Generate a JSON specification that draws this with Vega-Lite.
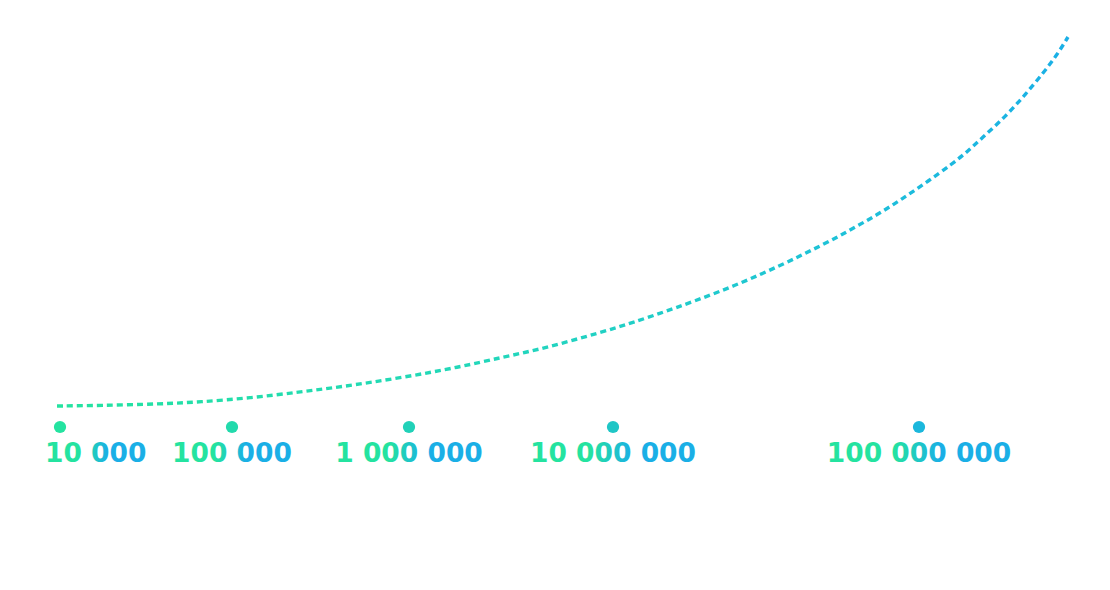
{
  "$schema": "https://vega.github.io/schema/vega-lite/v6.json",
  "width": 1110,
  "height": 590,
  "autosize": {"type": "fit", "contains": "padding"},
  "padding": 0,
  "background": "#ffffff",
  "config": {"view": {"stroke": null}},
  "datasets": {
    "curve": [
      {"x": 57, "v": 21}, {"x": 100, "v": 21.5}, {"x": 160, "v": 23}, {"x": 200, "v": 25},
      {"x": 250, "v": 29}, {"x": 300, "v": 35}, {"x": 340, "v": 40}, {"x": 400, "v": 49},
      {"x": 460, "v": 60}, {"x": 502, "v": 69.7}, {"x": 540, "v": 77.7}, {"x": 580, "v": 88.7},
      {"x": 618, "v": 99.7}, {"x": 650, "v": 110}, {"x": 740, "v": 142}, {"x": 823, "v": 182},
      {"x": 850, "v": 197}, {"x": 877, "v": 212}, {"x": 902, "v": 228}, {"x": 927, "v": 245},
      {"x": 952, "v": 263}, {"x": 967, "v": 275}, {"x": 982, "v": 289}, {"x": 1005, "v": 310},
      {"x": 1025, "v": 332}, {"x": 1044, "v": 355}, {"x": 1057, "v": 372}, {"x": 1068, "v": 390}
    ],
    "milestones": [
      {"label": "10 000", "pos": 60},
      {"label": "100 000", "pos": 232},
      {"label": "1 000 000", "pos": 409},
      {"label": "10 000 000", "pos": 613},
      {"label": "100 000 000", "pos": 919}
    ]
  },
  "layer": [
    {
      "data": {"name": "curve"},
      "mark": {
        "type": "line",
        "interpolate": "basis",
        "strokeWidth": 3.4,
        "strokeDash": [6, 4],
        "color": {
          "gradient": "linear", "x1": 0, "x2": 1, "y1": 0, "y2": 0,
          "stops": [
            {"offset": 0, "color": "#24E3A0"},
            {"offset": 0.45, "color": "#22D6BC"},
            {"offset": 0.75, "color": "#1EC3D6"},
            {"offset": 1, "color": "#1AAFE6"}
          ]
        }
      },
      "encoding": {
        "x": {"field": "x", "type": "quantitative", "scale": {"domain": [0, 1110]}, "axis": null},
        "y": {"field": "v", "type": "quantitative", "scale": {"domain": [-163, 427]}, "axis": null}
      }
    },
    {
      "data": {"name": "milestones"},
      "mark": {"type": "circle", "size": 150, "opacity": 1},
      "encoding": {
        "x": {"field": "pos", "type": "quantitative", "scale": {"domain": [0, 1110]}, "axis": null},
        "y": {"datum": 0, "type": "quantitative", "scale": {"domain": [-163, 427]}, "axis": null},
        "color": {
          "field": "pos", "type": "quantitative",
          "scale": {"domain": [57, 1068], "range": ["#24E3A0", "#1AAFE6"], "interpolate": "rgb"},
          "legend": null
        }
      }
    },
    {
      "data": {"name": "milestones"},
      "mark": {
        "type": "text",
        "font": "DejaVu Sans",
        "fontWeight": "bold",
        "fontSize": 26.5,
        "baseline": "middle",
        "align": {"expr": "datum.pos < 100 ? 'left' : 'center'"},
        "dx": {"expr": "datum.pos < 100 ? -15 : 0"},
        "dy": 27,
        "color": {
          "gradient": "linear", "x1": 0, "x2": 1, "y1": 0, "y2": 0,
          "stops": [
            {"offset": 0, "color": "#24E3A0"},
            {"offset": 0.36, "color": "#24E3A0"},
            {"offset": 0.62, "color": "#1AAFE6"},
            {"offset": 1, "color": "#1AAFE6"}
          ]
        }
      },
      "encoding": {
        "x": {"field": "pos", "type": "quantitative", "scale": {"domain": [0, 1110]}, "axis": null},
        "y": {"datum": 0, "type": "quantitative", "scale": {"domain": [-163, 427]}, "axis": null},
        "text": {"field": "label", "type": "nominal"}
      }
    }
  ]
}
